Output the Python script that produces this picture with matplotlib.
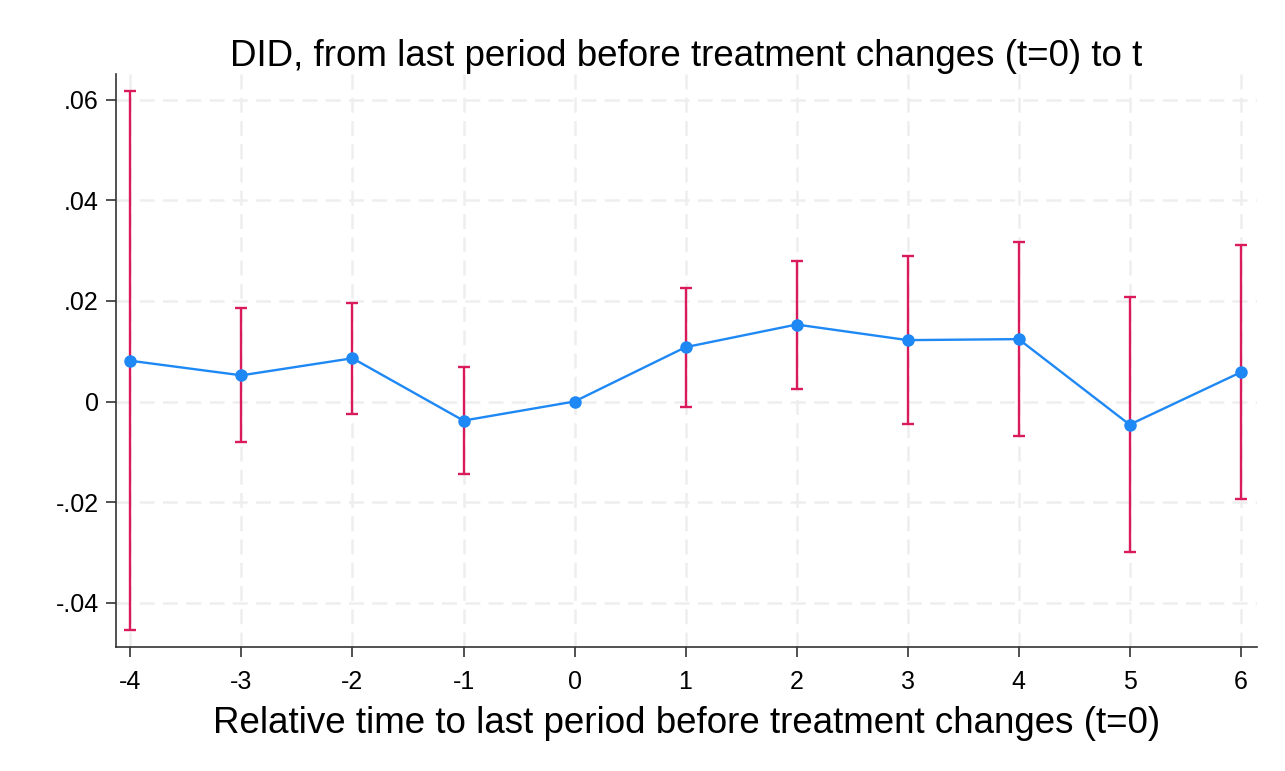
import matplotlib
matplotlib.use("Agg")
import matplotlib.pyplot as plt
import numpy as np

rel_time = [-4, -3, -2, -1, 0, 1, 2, 3, 4, 5, 6]
estimate = [0.0081, 0.0052, 0.0086, -0.0038, 0.0, 0.0108, 0.0153, 0.0122, 0.0124, -0.0046, 0.0058]
ci_upper = [0.0617, 0.0185, 0.0196, 0.0068, np.nan, 0.0225, 0.0280, 0.0289, 0.0317, 0.0207, 0.0311]
ci_lower = [-0.0455, -0.0081, -0.0024, -0.0145, np.nan, -0.0011, 0.0025, -0.0045, -0.0069, -0.0299, -0.0194]
ytick_vals = [-0.04, -0.02, 0.0, 0.02, 0.04, 0.06]
ytick_labels = ["-.04", "-.02", "0", ".02", ".04", ".06"]

plt.rcParams['font.family'] = ['Liberation Sans', 'DejaVu Sans']

fig = plt.figure(figsize=(12.85, 7.71), dpi=100)
ax = fig.add_axes([116/1285, 1 - 647/771, (1257-116)/1285, (647-74)/771])

x = np.array(rel_time, dtype=float)
est = np.array(estimate)
up = np.array(ci_upper)
lo = np.array(ci_lower)
mask = ~np.isnan(up)

ax.errorbar(x[mask], est[mask], yerr=[est[mask] - lo[mask], up[mask] - est[mask]],
            fmt='none', ecolor='#D91A5B', elinewidth=1.7, capsize=4.5, capthick=1.7, zorder=2)
ax.plot(x, est, color='#1E88F5', lw=1.7, marker='o', markersize=8, zorder=3)

ax.set_xlim(-4.13, 6.147)
ax.set_ylim(-0.0488, 0.0651)
ax.set_xticks(rel_time)
ax.set_xticklabels([str(v) for v in rel_time])
ax.set_yticks(ytick_vals)
ax.set_yticklabels(ytick_labels)

ax.grid(True, color='#EEEEEE', linestyle=(0, (6, 3.3)), linewidth=1.8, zorder=0)
ax.set_axisbelow(True)
for s in ['top', 'right']:
    ax.spines[s].set_visible(False)
for s in ['left', 'bottom']:
    ax.spines[s].set_color('#333333')
    ax.spines[s].set_linewidth(1.2)
ax.tick_params(axis='both', labelsize=18, length=7.5, width=1.2, color='#333333')
ax.tick_params(axis='x', pad=9)
ax.tick_params(axis='y', pad=5)

ax.set_title("DID, from last period before treatment changes (t=0) to t", fontsize=26.5, pad=5)
ax.set_xlabel("Relative time to last period before treatment changes (t=0)", fontsize=26.5, labelpad=9)

fig.savefig("out.png", dpi=100)
